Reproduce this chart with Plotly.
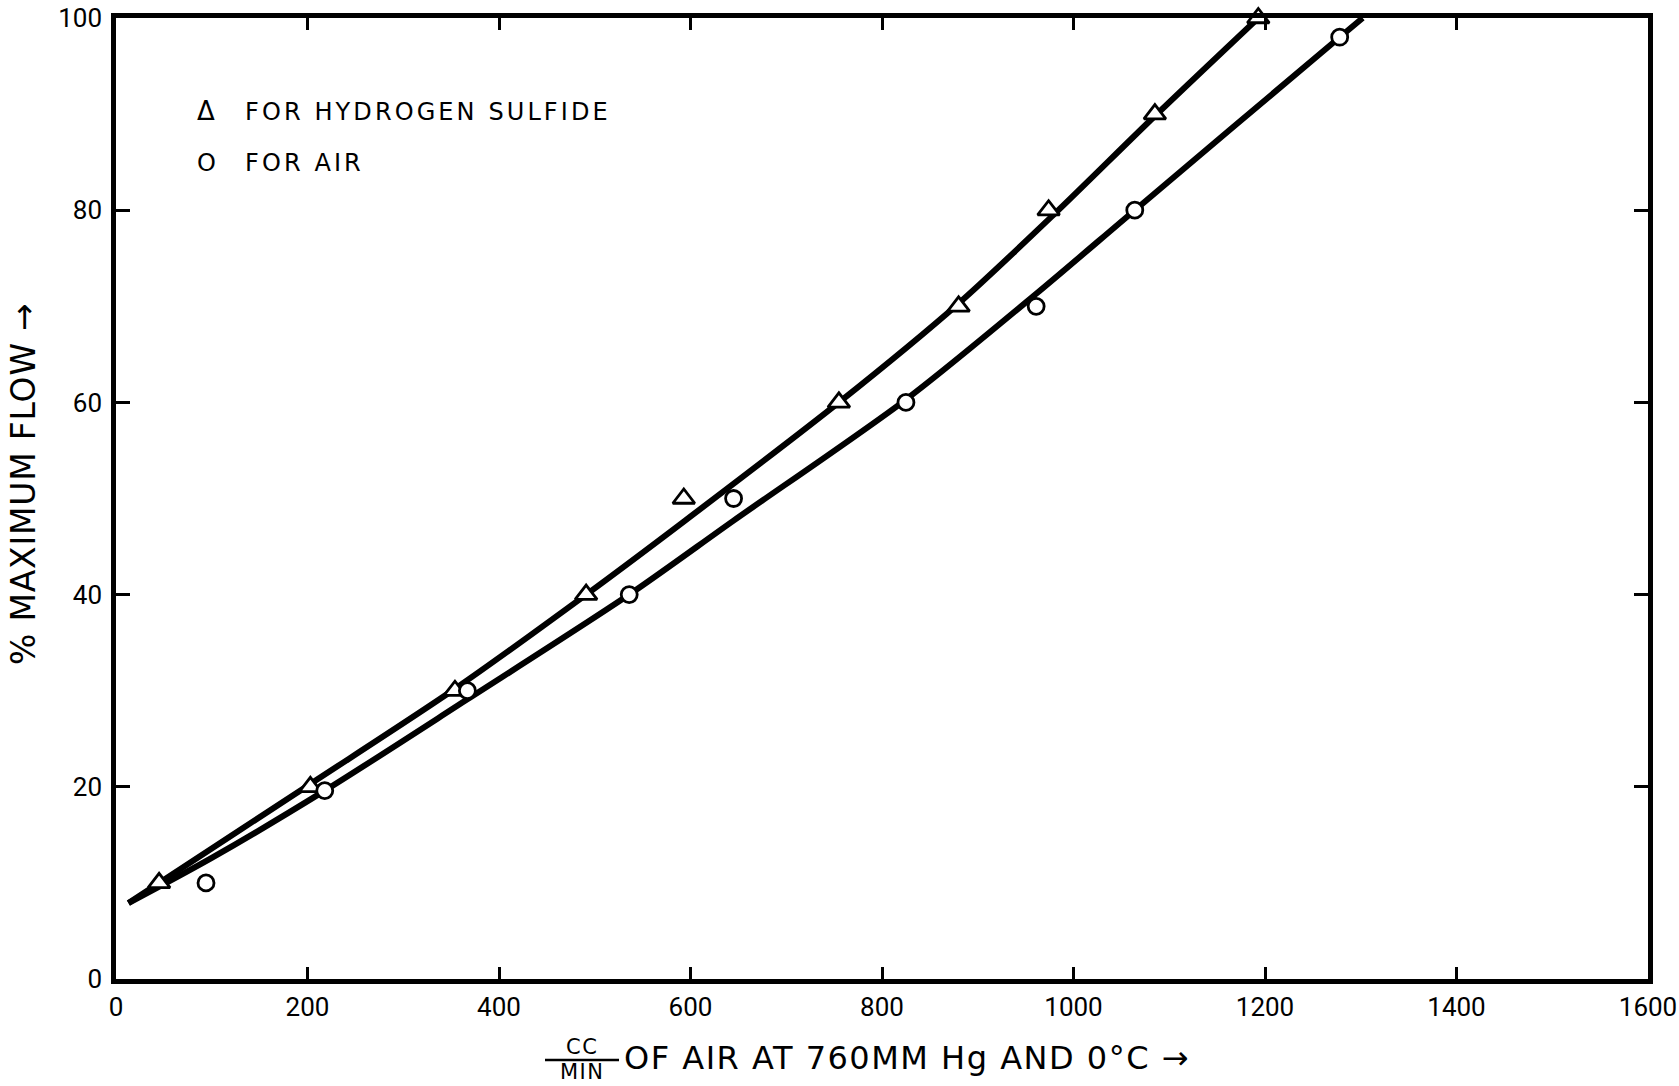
import plotly.graph_objects as go

# ---------------- data ----------------
h2s_x = [45, 203, 354, 491, 593, 755, 880, 974, 1085, 1193]
h2s_y = [10, 20, 30, 40, 50, 60, 70, 80, 90, 100]

air_x = [94, 218, 367, 536, 645, 825, 961, 1064, 1278]
air_y = [10, 19.6, 30, 40, 50, 60, 70, 80, 98]

# hand-drawn smooth curves through the points
h2s_curve_x = [13, 45, 203, 354, 491, 593, 755, 880, 980, 1085, 1193]
h2s_curve_y = [7.9, 10, 20.3, 30.2, 40, 47.6, 60, 70.3, 79.6, 89.8, 100]
air_curve_x = [13, 100, 218, 367, 536, 645, 825, 961, 1064, 1278, 1302]
air_curve_y = [7.9, 12.6, 19.6, 29.1, 40, 47.7, 60.3, 71.3, 80, 98, 100]

x_ticks = [0, 200, 400, 600, 800, 1000, 1200, 1400, 1600]
y_ticks = [0, 20, 40, 60, 80, 100]

legend_h2s = "FOR HYDROGEN SULFIDE"
legend_air = "FOR AIR"
x_title_num = "CC"
x_title_den = "MIN"
x_title_rest = "OF AIR AT 760MM Hg AND 0°C →"
y_title = "% MAXIMUM FLOW →"

# ---------------- layout geometry ----------------
W, H = 1679, 1086
ML, MR, MT, MB = 116, 31, 18, 107
PW = W - ML - MR
PH = H - MT - MB
FONT = "DejaVu Sans"
TICKFONT = "Roboto"


def px(xp):
    return (xp - ML) / PW


def py(yp):
    return (H - MB - yp) / PH


fig = go.Figure()

fig.add_trace(go.Scatter(x=h2s_curve_x, y=h2s_curve_y, mode="lines",
                         line=dict(color="black", width=6, shape="spline", smoothing=0.8),
                         showlegend=False, hoverinfo="skip"))
fig.add_trace(go.Scatter(x=air_curve_x, y=air_curve_y, mode="lines",
                         line=dict(color="black", width=6, shape="spline", smoothing=0.8),
                         showlegend=False, hoverinfo="skip"))
fig.add_trace(go.Scatter(x=h2s_x, y=h2s_y, mode="markers", name=legend_h2s,
                         marker=dict(symbol="triangle-up", size=19, color="white",
                                     line=dict(color="black", width=2.8)),
                         cliponaxis=False, showlegend=False))
fig.add_trace(go.Scatter(x=air_x, y=air_y, mode="markers", name=legend_air,
                         marker=dict(symbol="circle", size=16, color="white",
                                     line=dict(color="black", width=2.8)),
                         cliponaxis=False, showlegend=False))

axis_common = dict(showgrid=False, zeroline=False, showline=True, linecolor="black",
                   linewidth=4.5, mirror="ticks", ticks="inside", tickcolor="black",
                   tickwidth=2.5, automargin=False, ticklabeloverflow="allow",
                   tickfont=dict(family=TICKFONT, size=26, color="black"))

fig.update_xaxes(range=[0, 1600], tickvals=x_ticks, ticktext=[str(v) for v in x_ticks],
                 ticklen=12, ticklabelstandoff=1, **axis_common)
fig.update_yaxes(range=[0, 100], tickvals=y_ticks, ticktext=[str(v) for v in y_ticks],
                 ticklen=14, ticklabelstandoff=4, **axis_common)

ann = []
# legend written as text, like the original lettering
ann.append(dict(x=px(206), y=py(111), text="Δ", showarrow=False, xanchor="center",
                yanchor="middle", font=dict(family=FONT, size=26, color="black")))
ann.append(dict(x=px(243), y=py(112),
                text='<span style="letter-spacing:3.1px">' + legend_h2s + '</span>',
                showarrow=False, xanchor="left", yanchor="middle",
                font=dict(family=FONT, size=24, color="black")))
ann.append(dict(x=px(206), y=py(163), text="O", showarrow=False, xanchor="center",
                yanchor="middle", font=dict(family=FONT, size=24, color="black")))
ann.append(dict(x=px(243), y=py(163),
                text='<span style="letter-spacing:3.1px">' + legend_air + '</span>',
                showarrow=False, xanchor="left", yanchor="middle",
                font=dict(family=FONT, size=24, color="black")))
# x title
ann.append(dict(x=px(582), y=py(1047),
                text='<span style="letter-spacing:1.5px">' + x_title_num + '</span>',
                showarrow=False, xanchor="center",
                yanchor="middle", font=dict(family=FONT, size=21, color="black")))
ann.append(dict(x=px(582), y=py(1072),
                text='<span style="letter-spacing:1.5px">' + x_title_den + '</span>',
                showarrow=False, xanchor="center",
                yanchor="middle", font=dict(family=FONT, size=21, color="black")))
ann.append(dict(x=px(622), y=py(1058),
                text='<span style="letter-spacing:1.5px">' + x_title_rest + '</span>',
                showarrow=False, xanchor="left", yanchor="middle",
                font=dict(family=FONT, size=32, color="black")))
# y title
ann.append(dict(x=px(24), y=py(484),
                text='<span style="letter-spacing:0.8px">' + y_title + '</span>',
                showarrow=False, textangle=-90, xanchor="center", yanchor="middle",
                font=dict(family=FONT, size=33, color="black")))

for a in ann:
    a["xref"] = "paper"
    a["yref"] = "paper"

fig.update_layout(
    width=W, height=H,
    margin=dict(l=ML, r=MR, t=MT, b=MB, pad=0),
    paper_bgcolor="white", plot_bgcolor="white",
    showlegend=False,
    annotations=ann,
    shapes=[dict(type="line", xref="paper", yref="paper",
                 x0=px(545), x1=px(619), y0=py(1060), y1=py(1060),
                 line=dict(color="black", width=2.5))],
)

fig.write_html("out.html")
